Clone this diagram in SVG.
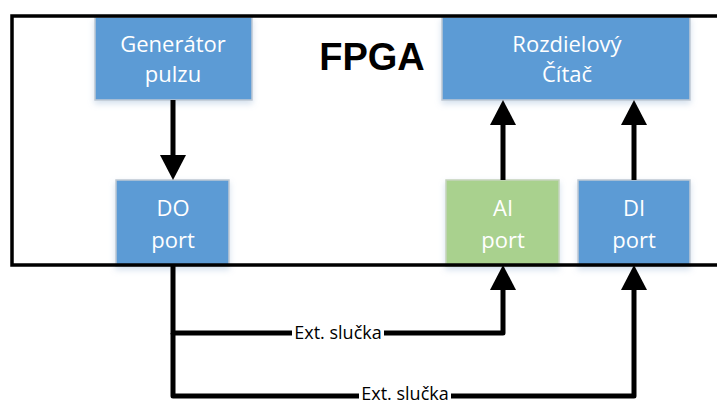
<svg xmlns="http://www.w3.org/2000/svg" width="717" height="405" viewBox="0 0 717 405">
<defs>
<style>
.box{fill:#5B9BD5;stroke:#BFC9D4;stroke-width:1.5}
.green{fill:#A9D18E;stroke:#C5D4BC;stroke-width:1.5}
.lbl{font-family:"Open Sans","Liberation Sans",sans-serif;font-size:22px;fill:#FFFFFF;text-anchor:middle}
.conn{fill:none;stroke:#000;stroke-width:5;stroke-linejoin:round}
.ext{font-family:"Open Sans","Liberation Sans",sans-serif;font-size:18px;fill:#000;text-anchor:middle}
</style>
<marker id="arr" markerUnits="userSpaceOnUse" markerWidth="26" markerHeight="28" refX="0" refY="13" orient="auto" viewBox="0 0 26 26">
<path d="M0 0 L25 13 L0 26 Z" fill="#000"/>
</marker>
<filter id="sh" x="-10%" y="-10%" width="120%" height="130%">
<feDropShadow dx="0" dy="3" stdDeviation="3" flood-color="#9DB9D8" flood-opacity="0.45"/>
</filter>
</defs>
<g id="gen">
<rect class="box" x="95" y="17" width="157" height="83" filter="url(#sh)"/>
<text class="lbl" x="173" y="52">Generátor</text>
<text class="lbl" x="173" y="82">pulzu</text>
</g>
<g id="citac">
<rect class="box" x="442" y="17" width="248" height="83" filter="url(#sh)"/>
<text class="lbl" x="567" y="52">Rozdielový</text>
<text class="lbl" x="567" y="82">Čítač</text>
</g>
<g id="do">
<rect class="box" x="116" y="180" width="113" height="86" filter="url(#sh)"/>
<text class="lbl" x="173" y="216">DO</text>
<text class="lbl" x="173" y="248">port</text>
</g>
<g id="ai">
<rect class="green" x="446" y="180" width="113" height="86" filter="url(#sh)"/>
<text class="lbl" x="503" y="216">AI</text>
<text class="lbl" x="503" y="248">port</text>
</g>
<g id="di">
<rect class="box" x="578" y="180" width="112" height="86" filter="url(#sh)"/>
<text class="lbl" x="634" y="216">DI</text>
<text class="lbl" x="634" y="248">port</text>
</g>
<g id="fpga">
<rect x="12" y="16" width="720" height="249" fill="none" stroke="#000" stroke-width="3.5"/>
<text x="372" y="70" font-family="'Liberation Sans',Arial,sans-serif" font-weight="bold" font-size="38" text-anchor="middle" fill="#000">FPGA</text>
</g>
<g id="connectors">
<path class="conn" d="M173 100 V155" marker-end="url(#arr)"/>
<path class="conn" d="M503 180 V125" marker-end="url(#arr)"/>
<path class="conn" d="M634 180 V125" marker-end="url(#arr)"/>
<path class="conn" d="M173 265 V333 H503 V290" marker-end="url(#arr)"/>
<path class="conn" d="M173 333 V396 H634 V290" marker-end="url(#arr)"/>
<rect x="292" y="320" width="92" height="24" fill="#fff"/>
<text class="ext" x="338" y="339">Ext. slučka</text>
<rect x="359" y="384" width="92" height="21" fill="#fff"/>
<text class="ext" x="405" y="400">Ext. slučka</text>
</g>
</svg>
